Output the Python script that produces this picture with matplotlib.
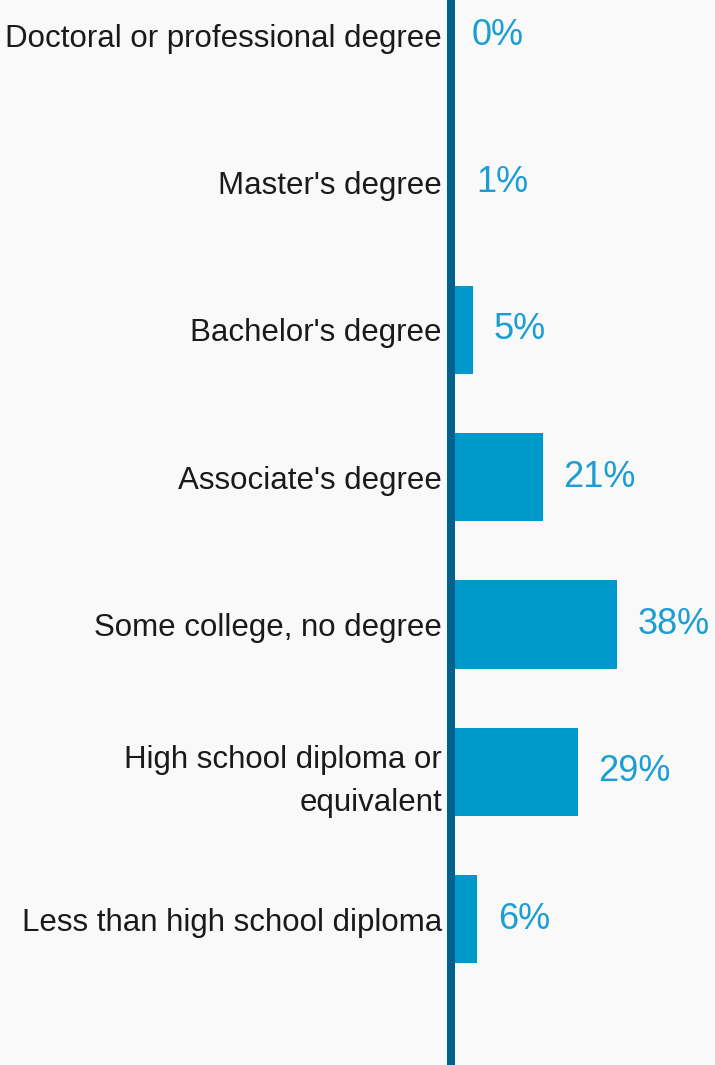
import matplotlib.pyplot as plt

categories = [
    'Doctoral or professional degree',
    "Master's degree",
    "Bachelor's degree",
    "Associate's degree",
    'Some college, no degree',
    'High school diploma or\nequivalent',
    'Less than high school diploma',
]
shares = [0, 1, 5, 21, 38, 29, 6]

plt.rcParams['font.family'] = ['Liberation Sans', 'DejaVu Sans']

bg = '#f9f9f9'
fig = plt.figure(figsize=(7.15, 10.65), dpi=100, facecolor=bg)
ax = fig.add_axes([451 / 715, 0, 264 / 715, 1], facecolor=bg)

ypos = list(range(len(categories)))
ax.barh(ypos, shares, height=0.6, color='#0099cc', zorder=2)

for y, v in zip(ypos, shares):
    ax.annotate(f'{v}%', (v, y), xytext=(15, 0), textcoords='offset points',
                ha='left', va='center', fontsize=26, color='#1a9ed4')

ax.set_xlim(0, 264 / 4.37)
ax.set_ylim(6.99, -0.24)
ax.set_yticks(ypos)
ax.set_yticklabels(categories, fontsize=22.5, color='#1a1a1a', linespacing=1.55)
ax.tick_params(axis='y', length=0, pad=6.5)
ax.set_xticks([])

for side in ['top', 'right', 'bottom']:
    ax.spines[side].set_visible(False)
ax.spines['left'].set_linewidth(5.8)
ax.spines['left'].set_color('#00628c')
ax.spines['left'].set_zorder(3)

fig.savefig('out.png', dpi=100, facecolor=bg)
